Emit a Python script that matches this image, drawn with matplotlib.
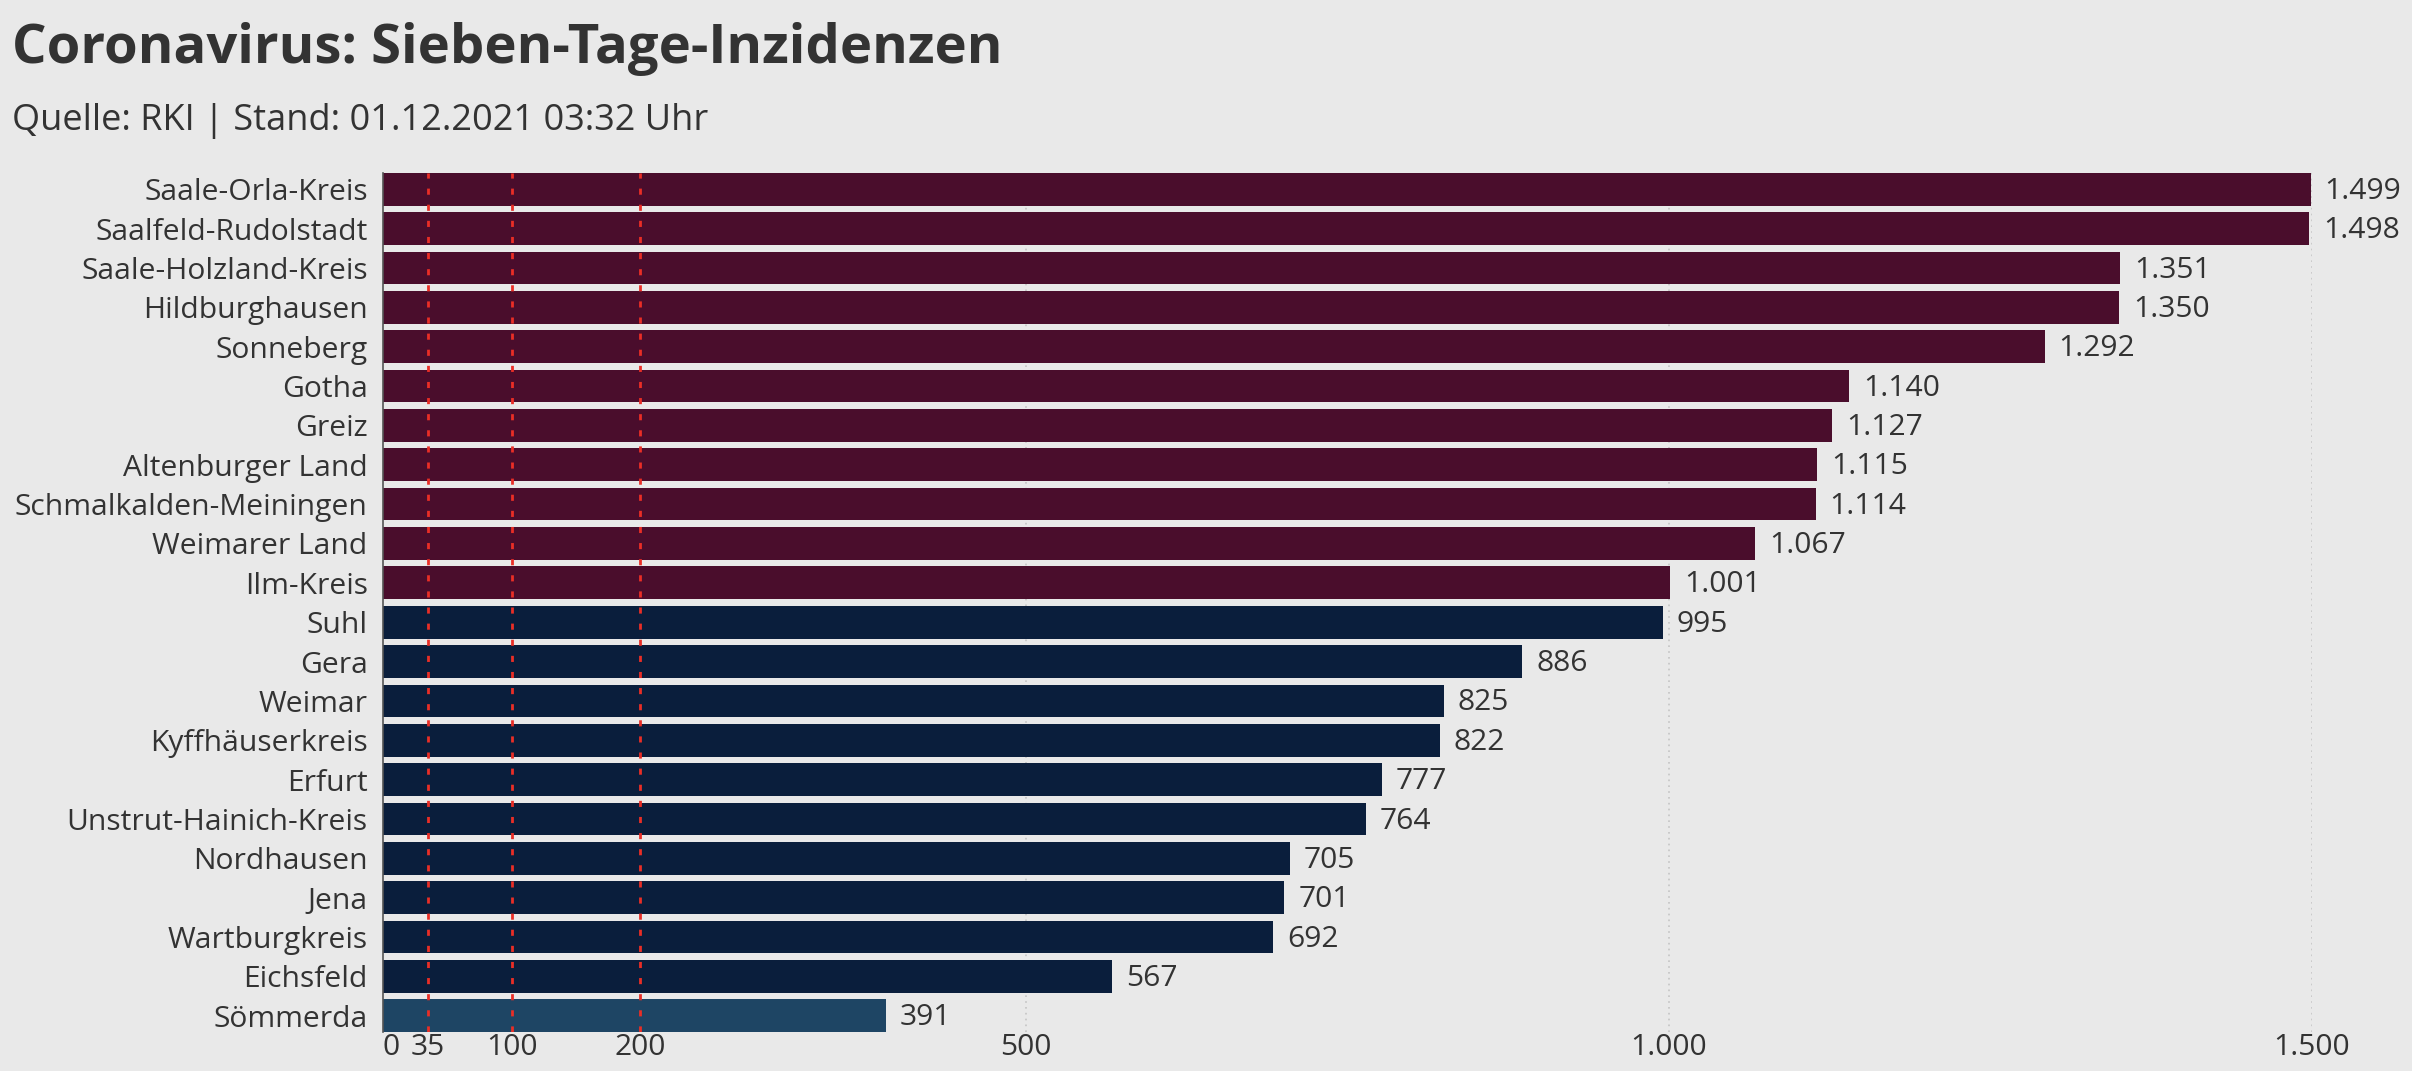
import matplotlib
matplotlib.use("Agg")
import matplotlib.pyplot as plt
import numpy as np

plt.rcParams['font.family'] = ['Open Sans', 'DejaVu Sans']

# Daten (RKI, Stand 01.12.2021)
kreise = ["Saale-Orla-Kreis", "Saalfeld-Rudolstadt", "Saale-Holzland-Kreis", "Hildburghausen",
          "Sonneberg", "Gotha", "Greiz", "Altenburger Land", "Schmalkalden-Meiningen",
          "Weimarer Land", "Ilm-Kreis", "Suhl", "Gera", "Weimar", "Kyffhäuserkreis", "Erfurt",
          "Unstrut-Hainich-Kreis", "Nordhausen", "Jena", "Wartburgkreis", "Eichsfeld", "Sömmerda"]
inzidenz = [1499, 1498, 1351, 1350, 1292, 1140, 1127, 1115, 1114, 1067, 1001,
            995, 886, 825, 822, 777, 764, 705, 701, 692, 567, 391]
ticks = [0, 35, 100, 200, 500, 1000, 1500]
grenzen = [35, 100, 200]
gitter = [500, 1000, 1500]

BG = '#e9e9e9'
TXT = '#333333'
FS = 21.6


def farbe(v):
    if v > 1000:
        return '#4a0d2c'
    if v >= 500:
        return '#0a1e3c'
    return '#1e4564'


def fmt(v):
    return f"{v:,}".replace(",", ".")


fig = plt.figure(figsize=(24.12, 10.71), dpi=100, facecolor=BG)
ax = fig.add_axes([383 / 2412, 1 - 1032 / 1071, (2312 - 383) / 2412, (1032 - 173) / 1071])
ax.set_facecolor(BG)

y = np.arange(len(kreise))
h = 0.83
ax.barh(y, inzidenz, height=h, color=[farbe(v) for v in inzidenz], zorder=2)

for g in gitter:
    ax.axvline(g, color='#c4c4c4', lw=1.2, ls=(0, (1, 2.5)), zorder=1)
for g in grenzen:
    ax.axvline(g, color='#ea2e26', lw=2.0, ls=(0, (2.2, 3.6)), zorder=3)

for yi, v in zip(y, inzidenz):
    ax.annotate(fmt(v), (v, yi), xytext=(10, -1.5), textcoords='offset points',
                va='center', ha='left', fontsize=FS, color=TXT)

ax.set_xlim(0, 1500)
ax.set_ylim(len(kreise) - 1 + h / 2, -h / 2)
ax.set_yticks(y)
ax.set_yticklabels(kreise, va='center_baseline')
ax.set_xticks(ticks)
ax.set_xticklabels([fmt(t) for t in ticks])
ax.get_xticklabels()[0].set_ha('left')
ax.tick_params(axis='y', length=0, pad=11, labelsize=FS, labelcolor=TXT)
ax.tick_params(axis='x', length=0, pad=1, labelsize=FS, labelcolor=TXT)
for s in ['top', 'right', 'bottom']:
    ax.spines[s].set_visible(False)
ax.spines['left'].set_color('#555555')
ax.spines['left'].set_linewidth(1.2)

fig.text(12 / 2412, 1 - 63 / 1071, "Coronavirus: Sieben-Tage-Inzidenzen", fontsize=39.2,
         fontweight='bold', color=TXT, ha='left', va='baseline')
fig.text(12 / 2412, 1 - 130 / 1071, "Quelle: RKI | Stand: 01.12.2021 03:32 Uhr", fontsize=26,
         color=TXT, ha='left', va='baseline')

fig.savefig("out.png", dpi=100, facecolor=BG)
